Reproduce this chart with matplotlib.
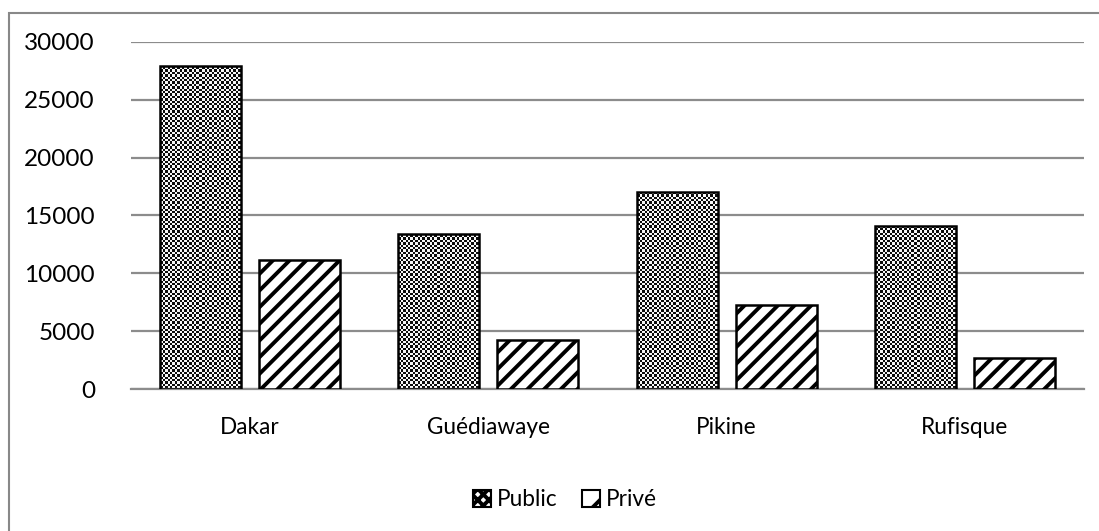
import numpy as np
import matplotlib
matplotlib.use("Agg")
import matplotlib.pyplot as plt
from matplotlib.patches import Rectangle, Patch

categories = ["Dakar", "Guédiawaye", "Pikine", "Rufisque"]
public = [27900, 13400, 17000, 14050]
prive = [11150, 4200, 7300, 2650]
series_names = ["Public", "Privé"]
yticks = [0, 5000, 10000, 15000, 20000, 25000, 30000]

W, H, DPI = 1099, 531, 100
plt.rcParams['font.family'] = ['Lato', 'DejaVu Sans']
plt.rcParams['hatch.linewidth'] = 2.8
plt.rcParams['hatch.color'] = 'black'

fig = plt.figure(figsize=(W / DPI, H / DPI), dpi=DPI)
fig.patch.set_facecolor('white')
ax = fig.add_axes([131 / W, 1 - 389 / H, (1084 - 131) / W, (389 - 42) / H])

x = np.arange(len(categories))
bw = 0.34
off = 0.0378 + bw / 2

ax.set_xlim(-0.5, len(categories) - 0.5)
ax.set_ylim(0, 30000)

bars_pub = ax.bar(x - off, public, bw, facecolor='none', edgecolor='black',
                  linewidth=1.8, zorder=3)
bars_pri = ax.bar(x + off, prive, bw, facecolor='white', edgecolor='black',
                  linewidth=1.8, hatch='//', zorder=3)

# checkerboard texture for Public bars, sized to the bar's pixel extent
for b in bars_pub:
    x0, y0 = b.get_x(), b.get_y()
    x1, y1 = x0 + b.get_width(), y0 + b.get_height()
    (px0, py0), (px1, py1) = ax.transData.transform([(x0, y0), (x1, y1)])
    nw = max(int(round(px1 - px0)), 1)
    nh = max(int(round(py1 - py0)), 1)
    yy, xx = np.mgrid[0:nh, 0:nw]
    chk = ((np.floor(xx / 2.4) + np.floor(yy / 2.4)) % 2).astype(float)
    chk = np.where(chk > 0, 0.97, 0.05)
    im = ax.imshow(chk, cmap='gray', vmin=0, vmax=1, extent=(x0, x1, y0, y1),
                   origin='lower', interpolation='nearest', aspect='auto',
                   zorder=2)
    im.set_clip_path(b)

ax.set_xlim(-0.5, len(categories) - 0.5)
ax.set_ylim(0, 30000)
ax.set_yticks(yticks)
ax.set_yticklabels([str(v) for v in yticks])
ax.set_xticks(x)
ax.set_xticklabels(categories)
ax.yaxis.grid(True, color='#8c8c8c', linewidth=1.6, zorder=0)
ax.set_axisbelow(True)
for s in ['top', 'right', 'left']:
    ax.spines[s].set_visible(False)
ax.spines['bottom'].set_color('#8c8c8c')
ax.spines['bottom'].set_linewidth(1.6)
ax.tick_params(axis='y', length=0, pad=26, labelsize=17.5, colors='black')
ax.tick_params(axis='x', length=0, pad=20, labelsize=16.3, colors='black')

h_pub = Patch(facecolor='white', edgecolor='black', hatch='xxx', linewidth=1.5)
h_pri = Patch(facecolor='white', edgecolor='black', hatch='/', linewidth=1.5)
leg = fig.legend([h_pub, h_pri], series_names, loc='center',
                 bbox_to_anchor=(565 / W, 1 - 500 / H), ncol=2, frameon=False,
                 fontsize=16.3, handlelength=0.8, handleheight=0.8,
                 handletextpad=0.27, columnspacing=1.05)

fig.patches.append(Rectangle((9 / W, -0.1), 1.2, 1 - 13 / H + 0.1,
                             transform=fig.transFigure, fill=False,
                             edgecolor='#888888', linewidth=1.5))

fig.savefig('out.png', dpi=DPI)
